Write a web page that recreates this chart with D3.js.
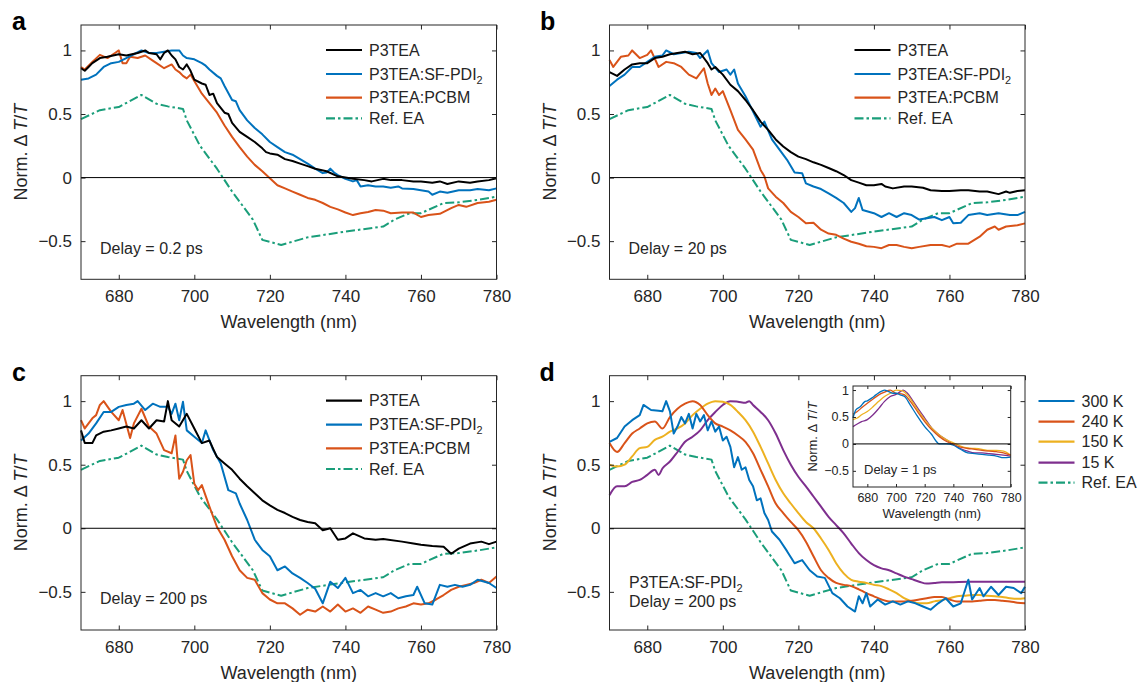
<!DOCTYPE html>
<html>
<head>
<meta charset="utf-8">
<script src="https://cdn.jsdelivr.net/npm/d3@7"></script>
<style>
  body { margin: 0; background: #fff; }
  text { font-family: "Liberation Sans", Arial, Helvetica, sans-serif; fill: #262626; }
</style>
</head>
<body>
<div id="chart"></div>
<script>

// ---- data (wavelength nm, normalised dT/T) ----
const xTicks = [680, 700, 720, 740, 760, 780]
const yTicks = [-0.5, 0, 0.5, 1]
const yTickLabels = ["\u22120.5", "0", "0.5", "1"]

const refEA = [[670,0.46],[675,0.53],[680,0.555],[686,0.65],[690,0.58],[693,0.56],[697,0.54],[698,0.45],[701.5,0.25],
  [706,0.07],[710,-0.11],[715.5,-0.33],[718,-0.49],[723,-0.53],[730,-0.47],[740,-0.425],[750,-0.385],[753,-0.33],
  [757,-0.28],[760,-0.28],[766,-0.2],[770,-0.195],[775,-0.175],[780,-0.15]]

// panel a, delay 0.2 ps
const a_p3tea = [[670,0.86],[671,0.84],[672,0.87],[673,0.9],[675,0.94],[677,0.95],[680,0.97],[682,0.96],[685,0.98],[687,1.0],
  [688,0.98],[690,0.97],[691,0.93],[692,0.98],[693,1.0],[694,0.96],[695,0.93],[696,0.87],[697,0.85],[698,0.89],[699,0.84],
  [700,0.77],[702,0.74],[703,0.73],[704,0.65],[705,0.66],[706,0.585],[708,0.51],[709,0.5],[710,0.43],[712,0.36],[714,0.32],
  [716,0.28],[718,0.23],[719,0.2],[720,0.19],[722,0.18],[724,0.145],[726,0.13],[728,0.11],[730,0.09],[732,0.07],[735,0.05],
  [738,0.01],[740,0.0],[742,-0.01],[745,-0.02],[747,-0.03],[750,-0.01],[752,-0.02],[755,-0.02],[758,-0.03],[760,-0.03],
  [763,-0.04],[765,-0.03],[767,-0.05],[770,-0.03],[773,-0.04],[775,-0.03],[778,-0.02],[780,-0.005]]
const a_sfpdi = [[670,0.77],[672,0.78],[674,0.81],[676,0.87],[678,0.9],[680,0.91],[682,0.94],[684,0.97],[686,1.0],[688,0.98],
  [690,0.98],[692,0.99],[694,1.0],[696,1.0],[697,0.96],[698,0.94],[700,0.93],[702,0.9],[703,0.88],[704,0.85],[706,0.8],
  [707,0.78],[708,0.72],[710,0.61],[711,0.6],[712,0.53],[714,0.45],[716,0.39],[718,0.34],[720,0.28],[722,0.24],[724,0.2],
  [726,0.18],[728,0.145],[730,0.11],[732,0.07],[734,0.035],[735,0.04],[736,0.07],[737,0.04],[738,0.02],[740,-0.01],
  [742,-0.03],[743,-0.02],[744,-0.07],[746,-0.06],[748,-0.07],[750,-0.07],[752,-0.08],[754,-0.07],[755,-0.085],[758,-0.09],
  [760,-0.1],[762,-0.11],[763,-0.135],[765,-0.11],[767,-0.12],[770,-0.1],[773,-0.1],[775,-0.09],[778,-0.1],[780,-0.085]]
const a_pcbm = [[670,0.87],[671,0.85],[673,0.91],[675,0.965],[677,0.94],[679,0.98],[680,1.0],[681,0.9],[682,0.9],[683,0.95],
  [685,0.94],[687,0.96],[689,0.92],[690,0.9],[692,0.86],[694,0.89],[695,0.85],[696,0.83],[697,0.8],[698,0.78],[699,0.81],
  [700,0.76],[702,0.66],[704,0.585],[706,0.51],[708,0.41],[710,0.32],[712,0.24],[714,0.165],[716,0.1],[718,0.05],[720,-0.005],
  [722,-0.06],[724,-0.085],[726,-0.11],[728,-0.135],[730,-0.16],[732,-0.175],[734,-0.2],[736,-0.23],[738,-0.25],[740,-0.275],
  [742,-0.295],[744,-0.28],[746,-0.27],[748,-0.255],[750,-0.26],[752,-0.28],[755,-0.275],[758,-0.275],[760,-0.31],
  [762,-0.295],[765,-0.285],[768,-0.24],[770,-0.215],[772,-0.23],[775,-0.2],[778,-0.19],[780,-0.175]]

// panel b, delay 20 ps
const b_p3tea = [[670,0.83],[672,0.8],[674,0.85],[676,0.89],[678,0.9],[680,0.9],[682,0.94],[684,0.95],[686,0.97],[688,0.98],
  [690,0.99],[692,0.97],[694,0.98],[696,0.9],[697,0.85],[698,0.87],[700,0.81],[702,0.73],[704,0.68],[706,0.61],[708,0.53],
  [710,0.44],[712,0.375],[714,0.3],[716,0.245],[718,0.2],[720,0.165],[722,0.145],[724,0.12],[726,0.1],[728,0.075],[730,0.05],
  [732,0.02],[734,-0.02],[736,-0.04],[738,-0.06],[740,-0.06],[742,-0.05],[743,-0.07],[745,-0.085],[748,-0.07],[750,-0.07],
  [753,-0.08],[755,-0.1],[758,-0.105],[760,-0.105],[763,-0.1],[765,-0.1],[768,-0.11],[770,-0.11],[773,-0.13],[775,-0.11],
  [776,-0.12],[778,-0.105],[780,-0.1]]
const b_sfpdi = [[670,0.72],[672,0.77],[674,0.81],[676,0.87],[678,0.87],[680,0.91],[682,0.95],[684,0.96],[685,1.0],[687,0.97],
  [689,0.98],[691,0.99],[693,0.98],[694,0.94],[696,1.0],[697,0.9],[699,0.83],[701,0.85],[702,0.81],[703,0.85],[704,0.74],
  [706,0.64],[708,0.52],[710,0.4],[711,0.44],[713,0.3],[715,0.22],[717,0.14],[719,0.04],[721,0.035],[722,-0.045],[724,-0.07],
  [726,-0.09],[728,-0.125],[730,-0.16],[732,-0.2],[734,-0.27],[735,-0.24],[736,-0.16],[737,-0.255],[740,-0.28],[742,-0.31],
  [744,-0.28],[746,-0.31],[748,-0.28],[750,-0.295],[752,-0.33],[754,-0.32],[756,-0.31],[758,-0.335],[760,-0.31],[761,-0.36],
  [763,-0.355],[765,-0.295],[768,-0.28],[770,-0.295],[773,-0.28],[776,-0.295],[778,-0.295],[780,-0.27]]
const b_pcbm = [[670,0.925],[671,0.87],[673,0.95],[675,0.96],[676,1.0],[678,0.94],[680,0.965],[681,1.0],[683,0.87],[685,0.91],
  [687,0.9],[689,0.87],[691,0.81],[693,0.78],[695,0.86],[696,0.74],[697,0.65],[698,0.7],[699,0.65],[700,0.68],[702,0.53],
  [704,0.375],[706,0.3],[708,0.22],[710,0.06],[711,0.01],[712,-0.085],[714,-0.15],[716,-0.2],[718,-0.27],[720,-0.31],
  [722,-0.36],[724,-0.355],[726,-0.41],[728,-0.44],[730,-0.45],[732,-0.48],[734,-0.505],[736,-0.52],[738,-0.54],[740,-0.545],
  [742,-0.555],[744,-0.53],[746,-0.53],[748,-0.545],[750,-0.555],[752,-0.545],[755,-0.53],[758,-0.53],[760,-0.545],
  [762,-0.52],[765,-0.52],[768,-0.465],[770,-0.41],[772,-0.385],[773,-0.41],[775,-0.385],[778,-0.375],[780,-0.36]]

// panel c, delay 200 ps
const c_p3tea = [[670,0.77],[671,0.67],[673,0.67],[674,0.73],[676,0.76],[678,0.77],[680,0.785],[682,0.8],[684,0.785],
  [686,0.85],[688,0.785],[690,0.85],[692,0.84],[693,1.0],[694,0.85],[696,0.8],[698,0.9],[700,0.785],[702,0.67],[704,0.69],
  [706,0.56],[708,0.51],[710,0.46],[712,0.39],[714,0.33],[716,0.275],[718,0.22],[720,0.18],[722,0.145],[724,0.12],[726,0.09],
  [728,0.065],[730,0.05],[732,0.04],[734,-0.015],[736,0.0],[738,-0.09],[740,-0.08],[742,-0.04],[745,-0.08],[748,-0.09],
  [750,-0.085],[755,-0.105],[758,-0.12],[760,-0.13],[763,-0.14],[766,-0.145],[768,-0.2],[770,-0.16],[773,-0.12],
  [776,-0.105],[778,-0.125],[780,-0.105]]
const c_sfpdi = [[670,0.69],[672,0.745],[674,0.825],[676,0.915],[678,0.915],[680,0.955],[682,0.97],[684,0.98],[685,1.0],
  [687,0.93],[689,0.98],[691,0.955],[693,0.955],[694,0.9],[695,0.98],[696,0.85],[697,0.995],[698,0.77],[700,0.72],[702,0.67],
  [703,0.77],[705,0.615],[707,0.51],[709,0.3],[711,0.275],[712,0.195],[714,0.065],[716,-0.09],[718,-0.17],[720,-0.22],
  [722,-0.33],[724,-0.3],[726,-0.355],[728,-0.39],[730,-0.43],[732,-0.475],[734,-0.59],[736,-0.42],[738,-0.47],[740,-0.39],
  [742,-0.51],[744,-0.485],[746,-0.535],[748,-0.51],[750,-0.535],[752,-0.51],[754,-0.55],[756,-0.535],[758,-0.525],
  [759,-0.46],[761,-0.59],[763,-0.6],[765,-0.445],[767,-0.46],[769,-0.445],[771,-0.46],[773,-0.445],[775,-0.405],
  [778,-0.43],[780,-0.47]]
const c_pcbm = [[670,0.85],[671,0.785],[673,0.865],[674,0.89],[675,0.97],[676,1.0],[678,0.915],[680,0.85],[681,0.93],
  [683,0.71],[684,0.825],[686,0.94],[688,0.8],[690,0.745],[692,0.615],[694,0.59],[695,0.73],[696,0.39],[697,0.445],
  [698,0.535],[699,0.575],[700,0.35],[701,0.3],[702,0.34],[704,0.17],[706,0.01],[708,-0.09],[710,-0.22],[712,-0.33],
  [714,-0.39],[716,-0.405],[718,-0.51],[720,-0.56],[722,-0.59],[724,-0.59],[726,-0.63],[728,-0.68],[730,-0.64],[732,-0.655],
  [734,-0.615],[736,-0.655],[738,-0.6],[740,-0.655],[742,-0.63],[744,-0.665],[746,-0.615],[748,-0.64],[750,-0.665],
  [752,-0.655],[754,-0.63],[756,-0.615],[758,-0.59],[760,-0.6],[762,-0.59],[764,-0.56],[766,-0.525],[768,-0.485],
  [770,-0.46],[772,-0.445],[774,-0.43],[776,-0.405],[778,-0.43],[780,-0.38]]

// panel d, P3TEA:SF-PDI2 at 200 ps vs temperature
const d_300K = [[670,0.68],[672,0.71],[674,0.8],[676,0.85],[678,0.89],[679,0.97],[681,0.93],[683,0.925],[684,0.92],[685,1.0],
  [686,0.92],[687,0.745],[688,0.8],[689,0.875],[690,0.825],[691,0.9],[692,0.785],[693,0.9],[694,0.84],[695,0.89],[696,0.77],
  [697,0.84],[698,0.76],[699,0.8],[700,0.69],[701,0.72],[702,0.64],[703,0.48],[704,0.56],[705,0.46],[706,0.48],[707,0.38],
  [708,0.33],[709,0.22],[710,0.235],[711,0.12],[712,0.065],[713,-0.025],[715,-0.09],[717,-0.18],[719,-0.275],[721,-0.25],
  [723,-0.33],[725,-0.38],[727,-0.39],[729,-0.51],[731,-0.55],[733,-0.615],[735,-0.655],[736,-0.535],[737,-0.59],
  [738,-0.51],[739,-0.615],[741,-0.56],[743,-0.6],[745,-0.575],[747,-0.6],[749,-0.575],[751,-0.59],[753,-0.615],
  [755,-0.64],[757,-0.59],[759,-0.55],[761,-0.615],[763,-0.59],[765,-0.405],[766,-0.56],[768,-0.47],[769,-0.535],
  [771,-0.46],[773,-0.525],[775,-0.46],[777,-0.47],[779,-0.51],[780,-0.46]]
const d_240K = [[670,0.67],[672,0.6],[674,0.67],[676,0.745],[678,0.785],[680,0.825],[682,0.84],[684,0.785],[686,0.875],
  [688,0.94],[690,0.98],[692,1.0],[694,0.97],[696,0.89],[698,0.825],[700,0.8],[702,0.77],[704,0.73],[706,0.68],[708,0.59],
  [710,0.46],[712,0.33],[714,0.195],[716,0.12],[718,0.05],[720,-0.015],[722,-0.105],[724,-0.22],[726,-0.33],[728,-0.39],
  [730,-0.43],[732,-0.445],[734,-0.455],[736,-0.48],[738,-0.51],[740,-0.535],[742,-0.56],[744,-0.575],[746,-0.575],
  [748,-0.575],[750,-0.57],[752,-0.56],[754,-0.55],[756,-0.54],[758,-0.54],[760,-0.56],[762,-0.575],[764,-0.575],
  [766,-0.575],[768,-0.57],[770,-0.565],[772,-0.565],[774,-0.57],[776,-0.575],[778,-0.585],[780,-0.59]]
const d_150K = [[670,0.5],[672,0.485],[674,0.5],[676,0.565],[678,0.63],[680,0.64],[682,0.695],[684,0.72],[686,0.76],
  [688,0.785],[690,0.825],[692,0.89],[694,0.94],[696,0.98],[698,1.0],[700,0.995],[702,0.97],[704,0.915],[706,0.85],
  [708,0.76],[710,0.64],[712,0.51],[714,0.38],[716,0.275],[718,0.195],[720,0.12],[722,0.05],[724,0.0],[726,-0.08],
  [728,-0.17],[730,-0.275],[732,-0.355],[734,-0.405],[736,-0.42],[738,-0.43],[740,-0.445],[742,-0.455],[744,-0.48],
  [746,-0.51],[748,-0.55],[750,-0.575],[752,-0.59],[754,-0.59],[756,-0.575],[758,-0.565],[760,-0.55],[762,-0.535],
  [764,-0.53],[766,-0.525],[768,-0.525],[770,-0.53],[772,-0.535],[774,-0.54],[776,-0.55],[778,-0.555],[780,-0.55]]
const d_15K = [[670,0.26],[672,0.33],[674,0.33],[676,0.365],[678,0.38],[680,0.42],[682,0.46],[683,0.42],[684,0.47],
  [686,0.525],[688,0.6],[690,0.68],[692,0.72],[694,0.77],[696,0.85],[698,0.915],[700,0.97],[702,1.0],[704,0.995],
  [706,0.987],[707,1.0],[708,0.97],[710,0.915],[712,0.85],[714,0.745],[716,0.615],[718,0.5],[720,0.405],[722,0.33],
  [724,0.25],[726,0.17],[728,0.09],[730,0.025],[732,-0.04],[734,-0.12],[736,-0.195],[738,-0.25],[740,-0.29],[742,-0.315],
  [744,-0.33],[746,-0.355],[748,-0.38],[750,-0.4],[752,-0.42],[754,-0.435],[756,-0.43],[758,-0.425],[760,-0.425],
  [765,-0.42],[770,-0.42],[775,-0.42],[780,-0.42]]

// inset, delay 1 ps
const i_300K = [[670,0.48],[672,0.63],[675,0.69],[678,0.78],[680,0.8],[683,0.85],[686,0.91],[690,0.98],[692,1.0],[695,0.97],
  [698,0.94],[700,0.94],[703,0.91],[706,0.88],[710,0.72],[715,0.51],[720,0.32],[725,0.17],[728,0.05],[730,0.0],[735,0.0],
  [740,-0.025],[745,-0.1],[750,-0.165],[755,-0.18],[760,-0.195],[765,-0.21],[770,-0.225],[775,-0.255],[780,-0.245]]
const i_240K = [[670,0.55],[673,0.6],[676,0.67],[680,0.755],[684,0.835],[688,0.91],[692,0.96],[696,1.0],[700,0.94],
  [704,0.93],[706,0.91],[710,0.79],[715,0.6],[720,0.415],[725,0.26],[730,0.14],[735,0.05],[740,-0.01],[745,-0.06],
  [750,-0.085],[755,-0.1],[760,-0.12],[765,-0.135],[770,-0.145],[775,-0.165],[780,-0.21]]
const i_150K = [[670,0.45],[673,0.48],[676,0.54],[680,0.6],[684,0.69],[688,0.79],[692,0.88],[696,0.94],[700,1.0],[704,0.99],
  [708,0.91],[712,0.76],[716,0.6],[720,0.45],[725,0.29],[730,0.17],[735,0.08],[740,0.02],[745,-0.04],[750,-0.075],
  [755,-0.085],[760,-0.1],[765,-0.12],[770,-0.12],[775,-0.135],[780,-0.21]]
const i_15K = [[670,0.32],[673,0.37],[676,0.415],[680,0.45],[684,0.54],[688,0.66],[692,0.79],[696,0.88],[700,0.92],
  [703,0.97],[705,1.0],[708,0.94],[712,0.79],[716,0.63],[720,0.48],[725,0.29],[730,0.17],[735,0.08],[740,-0.01],
  [745,-0.085],[750,-0.135],[755,-0.165],[760,-0.165],[765,-0.18],[770,-0.195],[775,-0.21],[780,-0.225]]

const sampleNames = ["P3TEA", "P3TEA:SF-PDI", "P3TEA:PCBM", "Ref. EA"]
const tempNames = ["300 K", "240 K", "150 K", "15 K", "Ref. EA"]

// ---- colours ----
const cBlack = "#000000", cBlue = "#0072BD", cOrange = "#D95319", cYellow = "#EDB120",
      cPurple = "#7E2F8E", cGreen = "#1a9e7a"
const dashDot = "9,3,2.5,3"

const svg = d3.select("#chart")
    .append("svg")
    .attr("width", 1139)
    .attr("height", 682)


function drawAxes(g, x, y, opt) {
    const w = x.range()[1], h = y.range()[0]
    const fs = opt.fontSize

    g.append("g").attr("transform", `translate(0,${h})`)
        .call(d3.axisBottom(x).tickValues(xTicks).tickSizeInner(-opt.tick).tickSizeOuter(0).tickPadding(opt.xPad))
        .call(a => a.select(".domain").remove())
        .call(a => a.selectAll("text").attr("font-size", fs).attr("font-family", null))
        .call(a => a.selectAll("line").attr("stroke", "#262626"))
    g.append("g")
        .call(d3.axisTop(x).tickValues(xTicks).tickSizeInner(-opt.tick).tickSizeOuter(0).tickFormat(""))
        .call(a => a.select(".domain").remove())
        .call(a => a.selectAll("line").attr("stroke", "#262626"))
    g.append("g")
        .call(d3.axisLeft(y).tickValues(yTicks).tickSizeInner(-opt.tick).tickSizeOuter(0).tickPadding(opt.yPad)
            .tickFormat((d, i) => yTickLabels[i]))
        .call(a => a.select(".domain").remove())
        .call(a => a.selectAll("text").attr("font-size", fs).attr("font-family", null))
        .call(a => a.selectAll("line").attr("stroke", "#262626"))
    g.append("g").attr("transform", `translate(${w},0)`)
        .call(d3.axisRight(y).tickValues(yTicks).tickSizeInner(-opt.tick).tickSizeOuter(0).tickFormat(""))
        .call(a => a.select(".domain").remove())
        .call(a => a.selectAll("line").attr("stroke", "#262626"))

    // zero line
    g.append("line")
        .attr("x1", 0).attr("x2", w)
        .attr("y1", y(0)).attr("y2", y(0))
        .attr("stroke", "#000").attr("stroke-width", opt.zeroW)

    // frame
    g.append("rect")
        .attr("width", w).attr("height", h)
        .attr("fill", "none").attr("stroke", "#262626").attr("stroke-width", 1)

    // axis titles
    g.append("text")
        .attr("x", w / 2).attr("y", h + opt.xTitleDy)
        .attr("text-anchor", "middle")
        .attr("font-size", opt.titleSize)
        .text("Wavelength (nm)")

    const yl = g.append("text")
        .attr("transform", `translate(${opt.yTitleDx},${h / 2}) rotate(-90)`)
        .attr("text-anchor", "middle")
        .attr("font-size", opt.titleSize)
    yl.append("tspan").text("Norm. \u0394\u2009")
    yl.append("tspan").attr("font-style", "italic").text("T")
    yl.append("tspan").text("/")
    yl.append("tspan").attr("font-style", "italic").text("T")
}


function drawLines(g, x, y, series, width) {
    const line = d3.line().x(d => x(d[0])).y(d => y(d[1]))
    series.forEach(s => {
        g.append("path")
            .datum(s.data)
            .attr("d", line.curve(s.smooth ? d3.curveMonotoneX : d3.curveLinear))
            .attr("fill", "none")
            .attr("stroke", s.color)
            .attr("stroke-width", width)
            .attr("stroke-linejoin", "round")
            .attr("stroke-dasharray", s.dash || null)
    })
}


function legend(g, items, x0, rows, fs) {
    items.forEach((it, i) => {
        g.append("line")
            .attr("x1", x0).attr("x2", x0 + 36)
            .attr("y1", rows[i]).attr("y2", rows[i])
            .attr("stroke", it.color).attr("stroke-width", 2.2)
            .attr("stroke-dasharray", it.dash || null)
        const t = g.append("text")
            .attr("x", x0 + 43).attr("y", rows[i])
            .attr("dy", "0.36em")
            .attr("font-size", fs)
        t.append("tspan").text(it.name)
        if (it.sub) t.append("tspan").attr("font-size", fs * 0.68).attr("dy", "0.35em").text(it.sub)
    })
}


const mainOpt = {fontSize: 17, titleSize: 18, tick: 4.5, xPad: 11, yPad: 9, zeroW: 1, xTitleDy: 49, yTitleDx: -54}

const panels = [
    {id: "a", left: 81, top: 25, delay: "Delay = 0.2 ps", lines: [a_p3tea, a_sfpdi, a_pcbm]},
    {id: "b", left: 609.5, top: 25, delay: "Delay = 20 ps", lines: [b_p3tea, b_sfpdi, b_pcbm]},
    {id: "c", left: 81, top: 375.7, delay: "Delay = 200 ps", lines: [c_p3tea, c_sfpdi, c_pcbm]}
]
const pw = 415.5, ph = 254.3

panels.forEach(p => {
    const g = svg.append("g").attr("transform", `translate(${p.left},${p.top})`)
    const x = d3.scaleLinear().domain([670, 780]).range([0, pw])
    const y = d3.scaleLinear().domain([-0.8, 1.2]).range([ph, 0])

    drawLines(g, x, y, [
        {data: refEA, color: cGreen, dash: dashDot},
        {data: p.lines[2], color: cOrange},
        {data: p.lines[1], color: cBlue},
        {data: p.lines[0], color: cBlack}
    ], 2)
    drawAxes(g, x, y, mainOpt)

    legend(g, [
        {name: sampleNames[0], color: cBlack},
        {name: sampleNames[1], sub: "2", color: cBlue},
        {name: sampleNames[2], color: cOrange},
        {name: sampleNames[3], color: cGreen, dash: dashDot}
    ], 245, [25, 49, 72.7, 93.3], 16)

    g.append("text").attr("x", 19).attr("y", 223).attr("dy", "0.36em")
        .attr("font-size", 16).text(p.delay)

    g.append("text").attr("x", p.left < 100 ? 12 - p.left : 540 - p.left).attr("y", 5)
        .attr("font-size", 25).attr("font-weight", "bold").style("fill", "#000").text(p.id)
})


// ---- panel d ----
const gd = svg.append("g").attr("transform", "translate(609.5,375.7)")
const xd = d3.scaleLinear().domain([670, 780]).range([0, pw])
const yd = d3.scaleLinear().domain([-0.8, 1.2]).range([ph, 0])

drawLines(gd, xd, yd, [
    {data: refEA, color: cGreen, dash: dashDot},
    {data: d_15K, color: cPurple, smooth: true},
    {data: d_150K, color: cYellow, smooth: true},
    {data: d_240K, color: cOrange, smooth: true},
    {data: d_300K, color: cBlue}
], 2)
drawAxes(gd, xd, yd, mainOpt)

gd.append("text").attr("x", -70).attr("y", 5)
    .attr("font-size", 25).attr("font-weight", "bold").style("fill", "#000").text("d")

const ann = gd.append("text").attr("x", 19.5).attr("y", 212).attr("font-size", 16)
ann.append("tspan").text("P3TEA:SF-PDI")
ann.append("tspan").attr("font-size", 11).attr("dy", "0.35em").text("2")
gd.append("text").attr("x", 19.5).attr("y", 231).attr("font-size", 16).text("Delay = 200 ps")

legend(gd, [
    {name: tempNames[0], color: cBlue},
    {name: tempNames[1], color: cOrange},
    {name: tempNames[2], color: cYellow},
    {name: tempNames[3], color: cPurple},
    {name: tempNames[4], color: cGreen, dash: dashDot}
], 429, [25.3, 46, 66, 87, 107], 16)

// inset
const ix0 = 853, iy0 = 386, iw = 157.7, ih = 101
const gi = svg.append("g").attr("transform", `translate(${ix0},${iy0})`)
gi.append("rect").attr("width", iw).attr("height", ih).attr("fill", "#fff")
const xi = d3.scaleLinear().domain([670, 780]).range([0, iw])
const yi = d3.scaleLinear().domain([-0.8, 1.075]).range([ih, 0])

drawLines(gi, xi, yi, [
    {data: i_15K, color: cPurple, smooth: true},
    {data: i_150K, color: cYellow, smooth: true},
    {data: i_240K, color: cOrange, smooth: true},
    {data: i_300K, color: cBlue, smooth: true}
], 1.3)
drawAxes(gi, xi, yi, {fontSize: 12.5, titleSize: 13, tick: 3, xPad: 6, yPad: 4, zeroW: 1, xTitleDy: 31, yTitleDx: -36})

gi.append("text").attr("x", 11).attr("y", 88).attr("font-size", 13).text("Delay = 1 ps")

</script>
</body>
</html>
